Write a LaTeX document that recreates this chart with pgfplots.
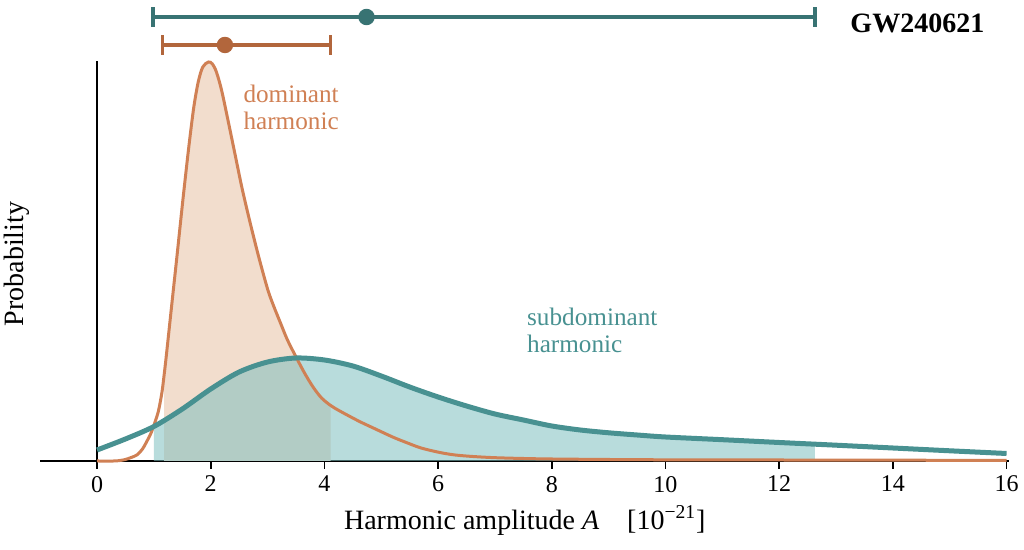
\documentclass[border=0pt]{standalone}
\usepackage{fontspec}
\setmainfont{Liberation Serif}
\usepackage{pgfplots}
\usepackage{pgfplotstable}
\pgfplotsset{compat=1.18}

\definecolor{orangeLine}{RGB}{208,128,84}
\definecolor{orangeFill}{RGB}{242,221,205}
\definecolor{orangeBar}{RGB}{178,102,60}
\definecolor{tealLine}{RGB}{72,145,145}
\definecolor{tealFill}{RGB}{126,191,191}
\definecolor{tealBar}{RGB}{56,115,115}

% dominant harmonic posterior (arbitrary height units)
\pgfplotstableread{
x y
0 0
0.3 0
0.4 0.5
0.5 1.5
0.6 3.5
0.7 6
0.8 12
0.87 19
0.95 28
1.02 39
1.08 50
1.14 68
1.18 86
1.22 106
1.31 154
1.41 207
1.51 261
1.61 312
1.7 353
1.78 379
1.86 394
1.96 399
2.03 397
2.1 389
2.19 371
2.31 339
2.43 306
2.55 273
2.69 239
2.84 205
3.0 172
3.1 156
3.22 139
3.35 121
3.51 103
3.65 88
3.8 74
3.95 63
4.11 55.5
4.27 50
4.6 40
4.86 33
5.2 24
5.44 18.5
5.7 13
6.03 8.5
6.3 6
6.61 4.5
7 3.3
7.5 2.5
8 2
9 1.5
10 1.2
12 1
14 0.8
16 0.6
}\dominant

% subdominant harmonic posterior
\pgfplotstableread{
x y
0 11
0.5 22
1.0 34.5
1.5 52
2.0 72
2.5 89
3.0 99
3.5 103
4.0 101
4.5 95
5.0 85
5.5 74
6.0 64
6.5 55
7.0 47
7.5 41
8.0 35
8.5 31
9.0 28.2
9.5 26
10 24
11 21.3
12 18.5
12.63 16.8
13 15.8
14 13
15 10.2
16 7.5
}\subdominant

\begin{document}
\begin{tikzpicture}
\begin{axis}[
  scale only axis,
  width=484.6pt, height=200pt,
  xmin=-1, xmax=16.05, ymin=0, ymax=400,
  axis x line=bottom, axis y line=none,
  axis line style={-, line width=1pt, black},
  xtick={0,2,...,16},
  tick align=outside, major tick length=4pt,
  tick style={black, line width=0.8pt},
  ticklabel style={font=\fontsize{12}{14}\selectfont},
  /pgf/number format/assume math mode=true,
  xlabel={Harmonic amplitude \textit{A}\quad[10\textsuperscript{−21}]},
  xlabel style={font=\fontsize{14}{16}\selectfont},
  clip=false,
]
% shaded 90% intervals
\addplot[draw=none, fill=orangeFill, smooth, restrict x to domain=1.17:4.12]
  table {\dominant} \closedcycle;
\addplot[draw=none, fill=tealFill, fill opacity=0.55, smooth, restrict x to domain=0.99:12.64]
  table {\subdominant} \closedcycle;

\addplot[black, line width=1pt] coordinates {(0,0) (0,400)};

\addplot[orangeLine, line width=1.5pt, smooth] table {\dominant};
\addplot[tealLine, line width=2.5pt, smooth] table {\subdominant};

% median and interval bars on top
\addplot[tealBar, line width=1.8pt, mark=*, mark size=3.2pt,
  error bars/.cd, x dir=both, x explicit,
  error mark=|, error mark options={mark size=4.8pt, line width=1.8pt, tealBar},
  error bar style={line width=1.8pt, tealBar}]
  coordinates {(4.74,444) -= (3.76,0) += (7.89,0)};
\addplot[orangeBar, line width=1.8pt, mark=*, mark size=3.2pt,
  error bars/.cd, x dir=both, x explicit,
  error mark=|, error mark options={mark size=4.8pt, line width=1.8pt, orangeBar},
  error bar style={line width=1.8pt, orangeBar}]
  coordinates {(2.25,416) -= (1.10,0) += (1.86,0)};

\node[anchor=west, font=\fontsize{14}{16}\selectfont\bfseries] at (axis cs:13.13,438) {GW240621};
\node[anchor=north west, align=left, inner sep=0pt, text=orangeLine,
  font=\fontsize{12.6}{13.3}\selectfont] at (axis cs:2.57,376) {dominant\\harmonic};
\node[anchor=north west, align=left, inner sep=0pt, text=tealLine,
  font=\fontsize{12.6}{13.3}\selectfont] at (axis cs:7.56,153) {subdominant\\harmonic};
\node[rotate=90, font=\fontsize{14}{16}\selectfont] at (axis cs:-1.42,197) {Probability};
\end{axis}
\pgfresetboundingbox
\path[use as bounding box] ([shift={(-20.1pt,-44.5pt)}]current axis.south west) rectangle ++(512pt,275pt);
\end{tikzpicture}
\end{document}
